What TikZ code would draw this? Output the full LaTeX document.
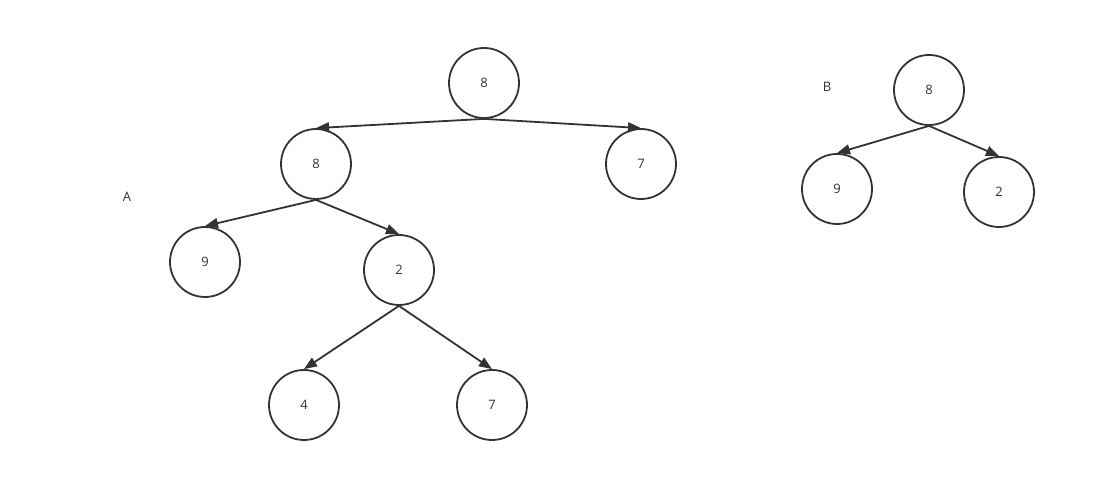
\documentclass[tikz,border=0pt]{standalone}
\usepackage{fontspec}
\setmainfont{Open Sans}
\usetikzlibrary{arrows.meta}
\definecolor{ink}{HTML}{333333}
\tikzset{
  tnode/.style={circle, draw=ink, line width=1.8pt, minimum size=70pt, inner sep=0pt, text=ink, font=\fontsize{13}{15}\selectfont},
  edge/.style={draw=ink, line width=1.8pt, -{Triangle[length=13pt,width=10pt]}},
  lbl/.style={text=ink, font=\fontsize{13}{15}\selectfont}
}
\begin{document}
\begin{tikzpicture}[x=1pt,y=-1pt]
\useasboundingbox (0,0) rectangle (1096,502);
\node[tnode] (r) at (484,83) {8};
\node[tnode] (a8) at (316,164) {8};
\node[tnode] (a7) at (641,164) {7};
\node[tnode] (a9) at (205,262) {9};
\node[tnode] (a2) at (399,270) {2};
\node[tnode] (a4) at (304,405) {4};
\node[tnode] (a7b) at (492,405) {7};
\node[lbl] (la) at (127,197) {A};
\node[lbl] (lb) at (827,87) {B};
\node[tnode] (b8) at (929,90) {8};
\node[tnode] (b9) at (837,189) {9};
\node[tnode] (b2) at (999,192) {2};
\draw[edge] (r.south) -- (a8.north);
\draw[edge] (r.south) -- (a7.north);
\draw[edge] (a8.south) -- (a9.north);
\draw[edge] (a8.south) -- (a2.north);
\draw[edge] (a2.south) -- (a4.north);
\draw[edge] (a2.south) -- (a7b.north);
\draw[edge] (b8.south) -- (b9.north);
\draw[edge] (b8.south) -- (b2.north);
\end{tikzpicture}
\end{document}
